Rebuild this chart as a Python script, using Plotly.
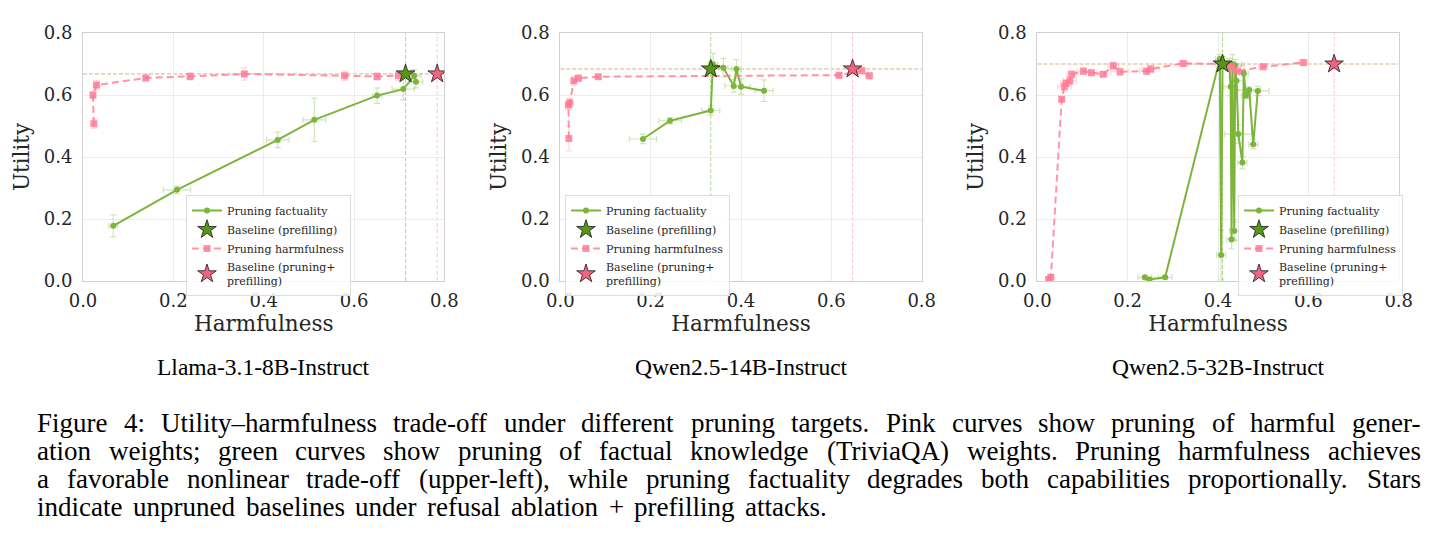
import plotly.graph_objects as go

# ---------------- data ----------------
panel_titles = ["Llama-3.1-8B-Instruct", "Qwen2.5-14B-Instruct", "Qwen2.5-32B-Instruct"]
tick_vals = [0.0, 0.2, 0.4, 0.6, 0.8]
tick_text = ["0.0", "0.2", "0.4", "0.6", "0.8"]

# Llama-3.1-8B-Instruct
llama_fact_x = [0.067, 0.208, 0.431, 0.512, 0.651, 0.709, 0.733, 0.737]
llama_fact_y = [0.178, 0.294, 0.455, 0.520, 0.598, 0.619, 0.662, 0.643]
llama_fact_xerr = [0.010, 0.030, 0.025, 0.025, 0.010, 0.025, 0.015, 0.015]
llama_fact_yerr = [0.035, 0.012, 0.025, 0.070, 0.025, 0.035, 0.020, 0.020]
llama_harm_x = [0.024, 0.022, 0.030, 0.139, 0.237, 0.357, 0.579, 0.651, 0.698]
llama_harm_y = [0.507, 0.600, 0.632, 0.655, 0.660, 0.668, 0.662, 0.660, 0.662]
llama_harm_xerr = [0.003, 0.003, 0.004, 0.004, 0.005, 0.005, 0.005, 0.005, 0.006]
llama_harm_yerr = [0.015, 0.010, 0.015, 0.006, 0.012, 0.020, 0.015, 0.012, 0.015]
llama_base_fact = (0.714, 0.668)
llama_base_harm = (0.784, 0.668)

# Qwen2.5-14B-Instruct
q14_fact_x = [0.183, 0.243, 0.333, 0.338, 0.361, 0.384, 0.390, 0.400, 0.451]
q14_fact_y = [0.458, 0.517, 0.550, 0.699, 0.688, 0.629, 0.684, 0.627, 0.614]
q14_fact_xerr = [0.030, 0.025, 0.020, 0.010, 0.010, 0.020, 0.010, 0.020, 0.020]
q14_fact_yerr = [0.015, 0.010, 0.015, 0.035, 0.030, 0.020, 0.030, 0.025, 0.035]
q14_harm_x = [0.019, 0.018, 0.021, 0.030, 0.040, 0.084, 0.617, 0.667, 0.684]
q14_harm_y = [0.460, 0.568, 0.575, 0.646, 0.654, 0.659, 0.664, 0.678, 0.662]
q14_harm_xerr = [0.003, 0.003, 0.004, 0.004, 0.005, 0.004, 0.004, 0.008, 0.008]
q14_harm_yerr = [0.040, 0.015, 0.015, 0.015, 0.010, 0.008, 0.008, 0.010, 0.010]
q14_base_fact = (0.333, 0.684)
q14_base_harm = (0.647, 0.684)

# Qwen2.5-32B-Instruct
q32_fact_x = [0.238, 0.248, 0.283, 0.404, 0.407, 0.410, 0.425, 0.428, 0.430, 0.432,
              0.436, 0.438, 0.441, 0.445, 0.454, 0.457, 0.462, 0.469, 0.478, 0.488]
q32_fact_y = [0.012, 0.005, 0.012, 0.716, 0.084, 0.705, 0.698, 0.627, 0.134, 0.700,
              0.161, 0.695, 0.646, 0.474, 0.382, 0.670, 0.598, 0.616, 0.441, 0.613]
q32_fact_xerr = [0.015, 0.010, 0.015, 0.010, 0.010, 0.015, 0.015, 0.015, 0.010, 0.020,
                 0.010, 0.020, 0.015, 0.030, 0.010, 0.010, 0.010, 0.025, 0.010, 0.025]
q32_fact_yerr = [0.005, 0.005, 0.005, 0.015, 0.080, 0.020, 0.020, 0.030, 0.030, 0.030,
                 0.030, 0.020, 0.030, 0.030, 0.020, 0.010, 0.010, 0.010, 0.015, 0.015]
q32_harm_x = [0.025, 0.030, 0.054, 0.060, 0.064, 0.072, 0.076, 0.102, 0.120, 0.146,
              0.168, 0.183, 0.242, 0.251, 0.323, 0.410, 0.430, 0.443, 0.500, 0.589]
q32_harm_y = [0.005, 0.012, 0.586, 0.627, 0.638, 0.646, 0.667, 0.677, 0.672, 0.667,
              0.694, 0.675, 0.677, 0.684, 0.702, 0.700, 0.690, 0.677, 0.691, 0.705]
q32_harm_xerr = [0.004, 0.004, 0.004, 0.015, 0.012, 0.015, 0.010, 0.015, 0.012, 0.008,
                 0.012, 0.020, 0.015, 0.020, 0.010, 0.015, 0.020, 0.015, 0.010, 0.010]
q32_harm_yerr = [0.008, 0.008, 0.008, 0.015, 0.010, 0.012, 0.010, 0.010, 0.008, 0.008,
                 0.012, 0.012, 0.010, 0.012, 0.008, 0.010, 0.012, 0.010, 0.008, 0.008]
q32_base_fact = (0.410, 0.700)
q32_base_harm = (0.657, 0.700)

caption_lines = [
    "Figure 4: Utility–harmfulness trade-off under different pruning targets. Pink curves show pruning of harmful gener-",
    "ation weights; green curves show pruning of factual knowledge (TriviaQA) weights. Pruning harmfulness achieves",
    "a favorable nonlinear trade-off (upper-left), while pruning factuality degrades both capabilities proportionally. Stars",
    "indicate unpruned baselines under refusal ablation + prefilling attacks.",
]
# right edge (px) each caption line reaches in the reference
caption_right_px = [1420, 1420, 1420, 826]

panels = [
    (llama_fact_x, llama_fact_y, llama_fact_xerr, llama_fact_yerr,
     llama_harm_x, llama_harm_y, llama_harm_xerr, llama_harm_yerr, llama_base_fact, llama_base_harm),
    (q14_fact_x, q14_fact_y, q14_fact_xerr, q14_fact_yerr,
     q14_harm_x, q14_harm_y, q14_harm_xerr, q14_harm_yerr, q14_base_fact, q14_base_harm),
    (q32_fact_x, q32_fact_y, q32_fact_xerr, q32_fact_yerr,
     q32_harm_x, q32_harm_y, q32_harm_xerr, q32_harm_yerr, q32_base_fact, q32_base_harm),
]

# ---------------- layout geometry ----------------
W, H = 1436, 549
x_left_px = [83, 560.3, 1037.3]
plot_w_px = 361.4
y_top_px, y_bot_px = 33, 281
legend_left_px = [186, 565, 1238]
legend_top_px = 195
CAP_LEFT = 36
CAP_Y0, CAP_DY = 423, 28
CAP_SIZE = 27

GREEN = "rgb(124,181,58)"
GREEN_ERR = "rgba(124,181,58,0.35)"
PINK = "rgba(255,120,148,0.8)"
PINK_ERR = "rgba(255,120,148,0.3)"
GREEN_STAR = "rgb(88,150,22)"
PINK_STAR = "rgb(240,100,128)"

SERIF = "DejaVu Serif"
TIMES = "Liberation Serif"
TEXT_COLOR = "#262626"

# Times-Roman advance widths (1/1000 em), used only to justify caption lines
TIMES_W = {
    ' ': 250, 'a': 444, 'b': 500, 'c': 444, 'd': 500, 'e': 444, 'f': 333, 'g': 500, 'h': 500,
    'i': 278, 'j': 278, 'k': 500, 'l': 278, 'm': 778, 'n': 500, 'o': 500, 'p': 500, 'q': 500,
    'r': 333, 's': 389, 't': 278, 'u': 500, 'v': 500, 'w': 722, 'x': 500, 'y': 500, 'z': 444,
    'A': 722, 'B': 667, 'C': 667, 'D': 722, 'E': 611, 'F': 556, 'G': 722, 'H': 722, 'I': 333,
    'J': 389, 'K': 722, 'L': 611, 'M': 889, 'N': 722, 'O': 722, 'P': 556, 'Q': 722, 'R': 667,
    'S': 556, 'T': 611, 'U': 722, 'V': 722, 'W': 944, 'X': 722, 'Y': 722, 'Z': 611,
    '0': 500, '1': 500, '2': 500, '3': 500, '4': 500, '5': 500, '6': 500, '7': 500, '8': 500,
    '9': 500, '.': 250, ',': 250, ':': 278, ';': 278, '-': 333, '–': 500, '(': 333, ')': 333,
    '+': 564,
}


def word_width(w, size):
    return sum(TIMES_W.get(c, 500) for c in w) / 1000.0 * size


fig = go.Figure()
layout_updates = {}

for i, (fx, fy, fxe, fye, hx, hy, hxe, hye, bf, bh) in enumerate(panels):
    n = "" if i == 0 else str(i + 1)
    xa, ya = "x" + n, "y" + n
    leg = "legend" + n
    common = dict(xaxis=xa, yaxis=ya, legend=leg)

    fig.add_trace(go.Scatter(
        x=fx, y=fy, mode="lines+markers", name="Pruning factuality",
        line=dict(color=GREEN, width=2), marker=dict(color=GREEN, size=6, symbol="circle"),
        error_x=dict(type="data", array=fxe, color=GREEN_ERR, thickness=1.2, width=3),
        error_y=dict(type="data", array=fye, color=GREEN_ERR, thickness=1.2, width=3),
        legendrank=1, **common))
    fig.add_trace(go.Scatter(
        x=hx, y=hy, mode="lines+markers", name="Pruning harmfulness",
        line=dict(color=PINK, width=2, dash="7px,4px"),
        marker=dict(color=PINK, size=7, symbol="square"),
        error_x=dict(type="data", array=hxe, color=PINK_ERR, thickness=1.2, width=3),
        error_y=dict(type="data", array=hye, color=PINK_ERR, thickness=1.2, width=3),
        legendrank=3, **common))
    fig.add_trace(go.Scatter(
        x=[bf[0]], y=[bf[1]], mode="markers", name="Baseline (prefilling)",
        marker=dict(color=GREEN_STAR, size=14, symbol="star", line=dict(color="#1a1a1a", width=0.8)),
        legendrank=2, **common))
    fig.add_trace(go.Scatter(
        x=[bh[0]], y=[bh[1]], mode="markers", name="Baseline (pruning+<br>prefilling)",
        marker=dict(color=PINK_STAR, size=14, symbol="star", line=dict(color="#1a1a1a", width=0.8)),
        legendrank=4, **common))

    # baseline reference lines
    fig.add_shape(type="line", xref=xa, yref=ya, x0=bf[0], x1=bf[0], y0=0, y1=0.8,
                  line=dict(color="rgba(150,200,90,0.7)", width=1, dash="4px,2px"), layer="below")
    fig.add_shape(type="line", xref=xa, yref=ya, x0=bh[0], x1=bh[0], y0=0, y1=0.8,
                  line=dict(color="rgba(255,150,175,0.55)", width=1, dash="4px,2px"), layer="below")
    fig.add_shape(type="line", xref=xa, yref=ya, x0=0, x1=0.8, y0=bh[1], y1=bh[1],
                  line=dict(color="rgba(225,170,140,0.6)", width=1, dash="4px,2px"), layer="below")
    fig.add_shape(type="line", xref=xa, yref=ya, x0=0, x1=0.8, y0=bf[1], y1=bf[1],
                  line=dict(color="rgba(200,180,120,0.5)", width=1, dash="4px,2px"), layer="below")

    x0 = x_left_px[i] / W
    x1 = (x_left_px[i] + plot_w_px) / W
    axis_common = dict(range=[0, 0.8], tickvals=tick_vals, ticktext=tick_text,
                       showgrid=True, gridcolor="#ececec", gridwidth=1,
                       showline=True, linecolor="#d0d0d0", linewidth=1, mirror=True,
                       zeroline=False, ticks="", automargin=False, layer="below traces",
                       tickfont=dict(family=SERIF, size=18, color=TEXT_COLOR))
    layout_updates["xaxis" + n] = dict(
        domain=[x0, x1], anchor=ya, ticklabelstandoff=3,
        title=dict(text="Harmfulness", font=dict(family=SERIF, size=21.5, color=TEXT_COLOR), standoff=2),
        **axis_common)
    layout_updates["yaxis" + n] = dict(
        domain=[1 - y_bot_px / H, 1 - y_top_px / H], anchor=xa, ticklabelstandoff=6,
        title=dict(text="Utility", font=dict(family=SERIF, size=21.5, color=TEXT_COLOR), standoff=8),
        **axis_common)
    layout_updates[leg] = dict(
        x=legend_left_px[i] / W, y=1 - legend_top_px / H, xanchor="left", yanchor="top",
        bgcolor="rgba(255,255,255,0.85)", bordercolor="#dddddd", borderwidth=1,
        font=dict(family=SERIF, size=11, color=TEXT_COLOR), tracegroupgap=0,
        itemwidth=30, traceorder="normal")

    fig.add_annotation(text=panel_titles[i], xref="paper", yref="paper",
                       x=(x_left_px[i] + plot_w_px / 2) / W, y=1 - 367 / H,
                       xanchor="center", yanchor="middle", showarrow=False,
                       font=dict(family=TIMES, size=23.5, color="black"))

# caption, laid out word by word to reproduce the justified LaTeX lines
for k, line in enumerate(caption_lines):
    words = line.split(" ")
    widths = [word_width(w, CAP_SIZE) for w in words]
    gap = (caption_right_px[k] - CAP_LEFT - sum(widths)) / (len(words) - 1)
    xpos = CAP_LEFT
    for w, wd in zip(words, widths):
        fig.add_annotation(text=w, xref="paper", yref="paper",
                           x=(xpos - 1) / W, y=1 - (CAP_Y0 + CAP_DY * k) / H,
                           xanchor="left", yanchor="middle", showarrow=False,
                           font=dict(family=TIMES, size=CAP_SIZE, color="black"))
        xpos += wd + gap

fig.update_layout(template="none", width=W, height=H, margin=dict(l=0, r=0, t=0, b=0, autoexpand=False),
                  paper_bgcolor="white", plot_bgcolor="white", showlegend=True,
                  font=dict(family=SERIF, color=TEXT_COLOR),
                  **layout_updates)

fig.write_html("out.html")
